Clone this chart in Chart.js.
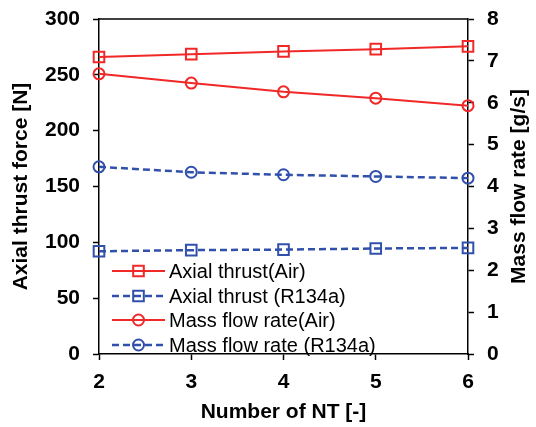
<!DOCTYPE html>
<html>
<head>
<meta charset="utf-8">
<script src="https://cdn.jsdelivr.net/npm/chart.js@4.4.1/dist/chart.umd.min.js"></script>
<style>
  html, body { margin: 0; padding: 0; background: #fff; }
  #wrap { width: 536px; height: 427px; }
</style>
</head>
<body>
<div id="wrap"><canvas id="chart" width="536" height="427"></canvas></div>
<script>
// Dados
const numeroNT = [2, 3, 4, 5, 6];
const empuxoAr = [266, 268.5, 271, 273, 275.5];        // Axial thrust (Air) [N]
const empuxoR134a = [92, 93, 93.5, 94.5, 95];          // Axial thrust (R134a) [N]
const vazaoAr = [6.69, 6.47, 6.26, 6.11, 5.93];        // Mass flow rate (Air) [g/s]
const vazaoR134a = [4.47, 4.34, 4.28, 4.24, 4.2];      // Mass flow rate (R134a) [g/s]
const ticksEmpuxo = [0, 50, 100, 150, 200, 250, 300];
const ticksVazao = [0, 1, 2, 3, 4, 5, 6, 7, 8];

const VERMELHO = '#f02828';
const AZUL = '#3050ac';
const FONTE = "'Liberation Sans', Arial, sans-serif";

function pontos(ys) {
    return numeroNT.map((x, i) => ({ x: x, y: ys[i] }));
}

// Linha superior da caixa + título do eixo direito (lido de baixo para cima)
const caixaPlugin = {
    id: 'caixa',
    afterDraw(chart) {
        const a = chart.chartArea;
        const ctx = chart.ctx;
        ctx.save();
        ctx.strokeStyle = '#000';
        ctx.lineWidth = 1.5;
        ctx.beginPath();
        ctx.moveTo(a.left, a.top);
        ctx.lineTo(a.right, a.top);
        ctx.stroke();

        ctx.translate(519, (a.top + a.bottom) / 2);
        ctx.rotate(-Math.PI / 2);
        ctx.fillStyle = '#000';
        ctx.font = 'bold 21px ' + FONTE;
        ctx.textAlign = 'center';
        ctx.textBaseline = 'middle';
        ctx.fillText('Mass flow rate [g/s]', 0, 0);
        ctx.restore();
    }
};

// Legenda desenhada dentro da área do gráfico, canto inferior esquerdo
const legendaPlugin = {
    id: 'legendaInterna',
    afterDatasetsDraw(chart) {
        const a = chart.chartArea;
        const ctx = chart.ctx;
        const offsets = [83, 58, 34, 9];
        ctx.save();
        chart.data.datasets.forEach((ds, i) => {
            const y = a.bottom - offsets[i];
            const x0 = a.left + 13;
            const x1 = a.left + 66;
            ctx.strokeStyle = ds.borderColor;
            ctx.lineWidth = ds.borderWidth;
            ctx.setLineDash(ds.borderDash || []);
            ctx.beginPath();
            ctx.moveTo(x0, y);
            ctx.lineTo(x1, y);
            ctx.stroke();
            ctx.setLineDash([]);
            ctx.fillStyle = 'rgba(0,0,0,0)';
            ctx.lineWidth = ds.pointBorderWidth;
            Chart.helpers.drawPoint(ctx, {
                pointStyle: ds.pointStyle,
                radius: ds.pointRadius,
                borderWidth: ds.pointBorderWidth,
                rotation: 0
            }, (x0 + x1) / 2, y);
            ctx.fillStyle = '#000';
            ctx.font = '20px ' + FONTE;
            ctx.textBaseline = 'middle';
            ctx.textAlign = 'left';
            ctx.fillText(ds.label, x1 + 4, y + 1);
        });
        ctx.restore();
    }
};

function serie(label, ys, cor, estilo, tracejado, eixo) {
    return {
        label: label,
        data: pontos(ys),
        yAxisID: eixo,
        borderColor: cor,
        backgroundColor: 'rgba(0,0,0,0)',
        borderWidth: tracejado ? 2.5 : 2,
        borderDash: tracejado ? [7, 4] : [],
        pointStyle: estilo,
        pointRadius: estilo === 'rect' ? 7.5 : 5.5,
        pointBorderWidth: 2,
        pointBorderColor: cor,
        pointBackgroundColor: 'rgba(0,0,0,0)',
        tension: 0,
        clip: false
    };
}

const fonteTicks = { family: FONTE, size: 21, weight: 'bold' };
const fonteTitulo = { family: FONTE, size: 21, weight: 'bold' };

// largura fixa do eixo vertical, sem padding extra para os rótulos
function fixaEixoY(largura) {
    return s => {
        s.width = largura;
        s.paddingTop = 0;
        s.paddingBottom = 0;
    };
}

const ctx = document.getElementById('chart');
new Chart(ctx, {
    type: 'line',
    data: {
        datasets: [
            serie('Axial thrust(Air)', empuxoAr, VERMELHO, 'rect', false, 'yL'),
            serie('Axial thrust (R134a)', empuxoR134a, AZUL, 'rect', true, 'yL'),
            serie('Mass flow rate(Air)', vazaoAr, VERMELHO, 'circle', false, 'yR'),
            serie('Mass flow rate (R134a)', vazaoR134a, AZUL, 'circle', true, 'yR')
        ]
    },
    options: {
        responsive: false,
        animation: false,
        events: [],
        layout: { padding: { top: 19, left: 0, right: 0, bottom: 0 } },
        plugins: {
            legend: { display: false },
            tooltip: { enabled: false }
        },
        scales: {
            x: {
                type: 'linear',
                min: 2,
                max: 6,
                afterBuildTicks: s => { s.ticks = numeroNT.map(v => ({ value: v })); },
                afterFit: s => { s.height = 73; s.paddingLeft = 0; s.paddingRight = 0; },
                grid: { drawOnChartArea: false, drawTicks: true, tickLength: 6, tickColor: '#000', tickWidth: 1.5 },
                border: { display: true, color: '#000', width: 1.5 },
                ticks: { color: '#000', padding: 10, font: fonteTicks },
                title: {
                    display: true, text: 'Number of NT [-]', color: '#000',
                    padding: { top: 0, bottom: 2 },
                    font: fonteTitulo
                }
            },
            yL: {
                type: 'linear',
                position: 'left',
                min: 0,
                max: 300,
                afterBuildTicks: s => { s.ticks = ticksEmpuxo.map(v => ({ value: v })); },
                afterFit: fixaEixoY(99),
                grid: { drawOnChartArea: false, drawTicks: true, tickLength: 6, tickColor: '#000', tickWidth: 1.5 },
                border: { display: true, color: '#000', width: 1.5 },
                ticks: { color: '#000', padding: 13, font: fonteTicks },
                title: {
                    display: true, text: 'Axial thrust force [N]', color: '#000',
                    padding: { top: 9, bottom: 0 },
                    font: fonteTitulo
                }
            },
            yR: {
                type: 'linear',
                position: 'right',
                min: 0,
                max: 8,
                afterBuildTicks: s => { s.ticks = ticksVazao.map(v => ({ value: v })); },
                afterFit: fixaEixoY(68),
                grid: { drawOnChartArea: false, drawTicks: true, tickLength: 6, tickColor: '#000', tickWidth: 1.5 },
                border: { display: true, color: '#000', width: 1.5 },
                ticks: { color: '#000', padding: 13, font: fonteTicks },
                title: { display: false }
            }
        }
    },
    plugins: [caixaPlugin, legendaPlugin]
});
</script>
</body>
</html>
